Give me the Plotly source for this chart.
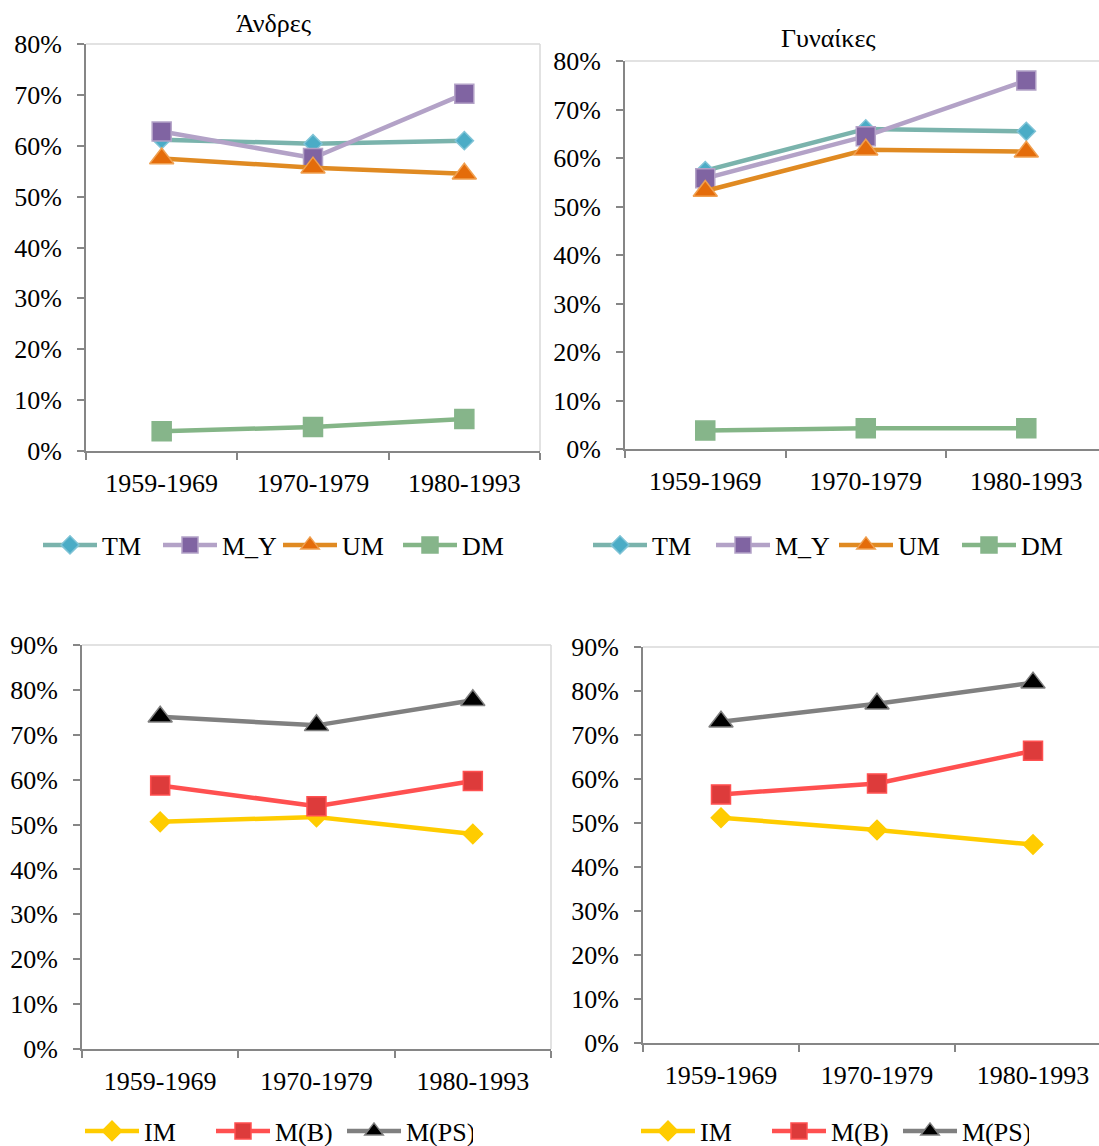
import plotly.graph_objects as go

periods = ["1959-1969", "1970-1979", "1980-1993"]

# Άνδρες (top-left)
men_TM = [61.2, 60.4, 61.0]
men_MY = [62.8, 57.6, 70.2]
men_UM = [57.5, 55.7, 54.5]
men_DM = [3.9, 4.7, 6.3]

# Γυναίκες (top-right)
wom_TM = [57.4, 66.0, 65.5]
wom_MY = [55.8, 64.5, 76.0]
wom_UM = [53.2, 61.7, 61.3]
wom_DM = [3.8, 4.3, 4.3]

# bottom-left
bl_IM = [50.6, 51.7, 47.9]
bl_MB = [58.7, 54.1, 59.7]
bl_MPS = [74.0, 72.1, 77.7]

# bottom-right
br_IM = [51.2, 48.4, 45.1]
br_MB = [56.5, 59.0, 66.4]
br_MPS = [73.0, 77.1, 81.9]

FONT = "Liberation Serif"
FS = 26
AX = "#868686"

styles = {
    "TM": dict(line="#7AB3AC", fill="#4BACC6", border="#7FC3D6", symbol="diamond", size=14),
    "M_Y": dict(line="#B3A2C7", fill="#8064A2", border="#B3A2C7", symbol="square", size=19),
    "UM": dict(line="#E08A22", fill="#E46C0A", border="#F0A050", symbol="triangle-up", size=21),
    "DM": dict(line="#84B587", fill="#86B58A", border="#86B58A", symbol="square", size=19),
    "IM": dict(line="#FFCC00", fill="#FFCC00", border="#FFCC00", symbol="diamond", size=15),
    "M(B)": dict(line="#FF5050", fill="#DD3B3B", border="#FF5050", symbol="square", size=19),
    "M(PS)": dict(line="#808080", fill="#000000", border="#808080", symbol="triangle-up", size=21),
}

fig = go.Figure()

def add(name, vals, ax, legend):
    s = styles[name]
    xa = "x" if ax == 1 else f"x{ax}"
    ya = "y" if ax == 1 else f"y{ax}"
    fig.add_trace(go.Scatter(
        x=periods, y=vals, name=name, mode="lines+markers",
        xaxis=xa, yaxis=ya, legend=legend,
        line=dict(color=s["line"], width=4.5),
        marker=dict(symbol=s["symbol"], size=s["size"], color=s["fill"],
                    line=dict(color=s["border"], width=1.5)),
        cliponaxis=False,
    ))

for n, v in [("TM", men_TM), ("M_Y", men_MY), ("UM", men_UM), ("DM", men_DM)]:
    add(n, v, 1, "legend")
for n, v in [("TM", wom_TM), ("M_Y", wom_MY), ("UM", wom_UM), ("DM", wom_DM)]:
    add(n, v, 2, "legend2")
for n, v in [("IM", bl_IM), ("M(B)", bl_MB), ("M(PS)", bl_MPS)]:
    add(n, v, 3, "legend3")
for n, v in [("IM", br_IM), ("M(B)", br_MB), ("M(PS)", br_MPS)]:
    add(n, v, 4, "legend4")

W, H = 1099, 1146
def px(x):
    return x / W
def py(y):
    return 1 - y / H

panels = {
    1: dict(x=[px(86), px(540)], y=[py(451), py(44)], xr=[-0.5, 2.5], yr=[0, 80]),
    2: dict(x=[px(625), 1.0], y=[py(449), py(61)], xr=[-0.5, 2.453], yr=[0, 80]),
    3: dict(x=[px(82), px(551)], y=[py(1049), py(645)], xr=[-0.5, 2.5], yr=[0, 90]),
    4: dict(x=[px(643), 1.0], y=[py(1043), py(647)], xr=[-0.5, 2.423], yr=[0, 90]),
}

layout = dict(
    width=W, height=H, margin=dict(l=0, r=0, t=0, b=0, autoexpand=False),
    paper_bgcolor="white", plot_bgcolor="white",
    font=dict(family=FONT, size=FS, color="black"),
    showlegend=True,
)
shapes = []
for i, p in panels.items():
    k = "" if i == 1 else str(i)
    layout[f"xaxis{k}"] = dict(
        domain=p["x"], range=p["xr"], type="category", anchor=f"y{k}",
        showline=True, linecolor=AX, linewidth=2, ticks="outside", tickson="boundaries",
        ticklen=7, tickcolor=AX, tickwidth=1.5, showgrid=False, zeroline=False,
        tickfont=dict(family=FONT, size=FS, color="black"), ticklabelstandoff=8,
        fixedrange=True, automargin=False,
    )
    layout[f"yaxis{k}"] = dict(
        domain=p["y"], range=p["yr"], dtick=10, anchor=f"x{k}", ticksuffix="%",
        showline=True, linecolor=AX, linewidth=2, ticks="outside", ticklen=7,
        tickcolor=AX, tickwidth=1.5, showgrid=False, zeroline=False,
        tickfont=dict(family=FONT, size=FS, color="black"), ticklabelstandoff=10,
        fixedrange=True, automargin=False,
    )
    xref = f"x{k} domain"
    yref = f"y{k} domain"
    shapes.append(dict(type="line", xref=xref, yref=yref, x0=0, x1=1, y0=1, y1=1,
                       line=dict(color="#D9D9D9", width=1.5), layer="below"))
    if i in (1, 3):
        shapes.append(dict(type="line", xref=xref, yref=yref, x0=1, x1=1, y0=0, y1=1,
                           line=dict(color="#D9D9D9", width=1.5), layer="below"))
layout["shapes"] = shapes

leg_common = dict(orientation="h", yanchor="middle", xanchor="left",
                  font=dict(family=FONT, size=FS, color="black"),
                  bgcolor="rgba(0,0,0,0)", itemwidth=54, traceorder="normal",
                  entrywidthmode="pixels")
layout["legend"] = dict(leg_common, x=px(38), y=py(545), entrywidth=51)
layout["legend2"] = dict(leg_common, x=px(588), y=py(545), entrywidth=54)
layout["legend3"] = dict(leg_common, x=px(80), y=py(1131), entrywidth=62)
layout["legend4"] = dict(leg_common, x=px(636), y=py(1131), entrywidth=62)

layout["annotations"] = [
    dict(text="Άνδρες", x=px(274), y=py(23), xref="paper", yref="paper",
         xanchor="center", yanchor="middle",
         showarrow=False, font=dict(family=FONT, size=FS, color="black")),
    dict(text="Γυναίκες", x=px(828), y=py(38), xref="paper", yref="paper",
         xanchor="center", yanchor="middle",
         showarrow=False, font=dict(family=FONT, size=FS, color="black")),
]

fig.update_layout(**layout)
fig.write_html("out.html", config={"displayModeBar": False},
               post_script="document.body.style.margin='0px';")
